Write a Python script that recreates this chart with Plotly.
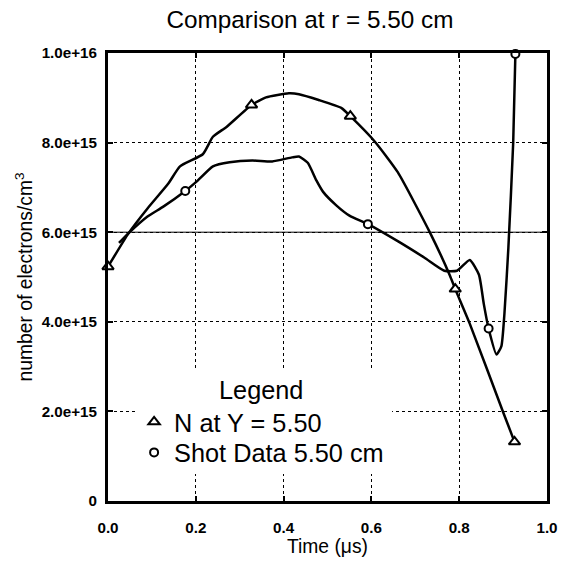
import plotly.graph_objects as go

# ---- data (electron density in units of 1e15 electrons/cm^3) ----
time_model = [0.0, 0.047, 0.090, 0.137, 0.164, 0.216, 0.239, 0.270, 0.327, 0.360,
              0.412, 0.435, 0.480, 0.532, 0.552, 0.608, 0.660, 0.734, 0.779, 0.791,
              0.824, 0.901, 0.926]
n_model = [5.23, 5.98, 6.53, 7.08, 7.47, 7.74, 8.13, 8.35, 8.84, 9.01,
           9.10, 9.08, 8.95, 8.77, 8.59, 8.02, 7.34, 5.98, 5.03, 4.73,
           3.96, 1.96, 1.32]
time_model_marks = [0.0, 0.327, 0.552, 0.791, 0.926]
n_model_marks = [5.23, 8.84, 8.59, 4.73, 1.32]

time_shot = [0.025, 0.047, 0.090, 0.126, 0.176, 0.203, 0.239, 0.277, 0.329, 0.374,
             0.419, 0.435, 0.455, 0.475, 0.490, 0.520, 0.550, 0.592, 0.660, 0.721,
             0.766, 0.795, 0.824, 0.845, 0.856, 0.867, 0.885, 0.896, 0.903, 0.912,
             0.923, 0.928]
n_shot = [5.76, 5.98, 6.35, 6.57, 6.92, 7.14, 7.47, 7.56, 7.60, 7.58,
          7.67, 7.69, 7.55, 7.15, 6.90, 6.60, 6.37, 6.18, 5.80, 5.43,
          5.14, 5.14, 5.38, 5.05, 4.40, 3.85, 3.27, 3.45, 4.18, 5.65,
          8.00, 9.98]
time_shot_marks = [0.176, 0.592, 0.867, 0.928]
n_shot_marks = [6.92, 6.18, 3.85, 9.98]

x_ticks = [0.0, 0.2, 0.4, 0.6, 0.8, 1.0]
x_tick_labels = ["0.0", "0.2", "0.4", "0.6", "0.8", "1.0"]
y_ticks = [0, 2e15, 4e15, 6e15, 8e15, 1e16]
y_tick_labels = ["0", "2.0e+15", "4.0e+15", "6.0e+15", "8.0e+15", "1.0e+16"]
ref_level = 6e15

SCALE = 1e15
FONT = "Liberation Sans, Arial, Helvetica, sans-serif"

# the captured picture comes out slightly reduced; layout pixels are scaled up to match
K = 1 / 0.987


def P(v):
    return v * K


W, H = 569, 565
L, T = round(P(107)), round(P(52))
R, B = W - round(P(551)), H - round(P(507))
PW, PH = W - L - R, H - T - B


def px_to_paper_x(px):
    return (P(px) - L) / PW


def px_to_paper_y(py):
    return 1 - (P(py) - T) / PH


fig = go.Figure()

fig.add_trace(go.Scatter(
    x=time_model, y=[v * SCALE for v in n_model], mode="lines",
    line=dict(color="black", width=2.5, shape="spline", smoothing=0.5),
    showlegend=False, hoverinfo="skip"))
fig.add_trace(go.Scatter(
    x=time_shot, y=[v * SCALE for v in n_shot], mode="lines",
    line=dict(color="black", width=2.5, shape="spline", smoothing=0.5),
    showlegend=False, hoverinfo="skip"))

fig.add_trace(go.Scatter(
    x=time_model_marks, y=[v * SCALE for v in n_model_marks], mode="markers",
    name="N at Y = 5.50", legend="legend",
    marker=dict(symbol="triangle-up", size=10, color="white",
                line=dict(color="black", width=2)),
    cliponaxis=False))
fig.add_trace(go.Scatter(
    x=time_shot_marks, y=[v * SCALE for v in n_shot_marks], mode="markers",
    name="Shot Data 5.50 cm", legend="legend2",
    marker=dict(symbol="circle", size=8, color="white",
                line=dict(color="black", width=2)),
    cliponaxis=False))

# solid reference line at 6e15
fig.add_shape(type="line", xref="x domain", x0=0, x1=1, yref="y",
              y0=ref_level, y1=ref_level, line=dict(color="black", width=1),
              layer="above")
# white legend panel hiding the grid behind the legend
fig.add_shape(type="rect", xref="paper", yref="paper",
              x0=px_to_paper_x(134), x1=px_to_paper_x(394),
              y0=px_to_paper_y(480), y1=px_to_paper_y(375),
              fillcolor="white", line=dict(width=0), layer="above")

axis_common = dict(
    showline=True, linecolor="black", linewidth=3, mirror="ticks",
    ticks="inside", ticklen=5, tickwidth=2, tickcolor="black",
    showgrid=True, gridcolor="black", gridwidth=1, griddash="dot",
    zeroline=False,
    tickfont=dict(family=FONT, size=15.2, color="black", weight="bold"),
)

fig.update_xaxes(range=[0, 1], tickvals=x_ticks, ticktext=x_tick_labels,
                 title=dict(text="Time (μs)", font=dict(family=FONT, size=19.3, color="black"),
                            standoff=4),
                 ticklabelstandoff=11, **axis_common)
fig.update_yaxes(range=[0, 1e16], tickvals=y_ticks, ticktext=y_tick_labels,
                 title=dict(text="number of electrons/cm<sup>3</sup>",
                            font=dict(family=FONT, size=19.3, color="black"), standoff=4),
                 ticklabelstandoff=5, **axis_common)

legend_font = dict(family=FONT, size=25.3, color="black")
fig.update_layout(
    width=W, height=H,
    margin=dict(l=L, r=R, t=T, b=B),
    plot_bgcolor="white", paper_bgcolor="white",
    title=dict(text="Comparison at r = 5.50 cm", x=P(306) / W, xanchor="center",
               y=1 - P(19) / H, yanchor="middle", yref="container",
               font=dict(family=FONT, size=24.3, color="black")),
    legend=dict(font=legend_font, x=px_to_paper_x(133), xanchor="left",
                y=px_to_paper_y(427), yanchor="middle",
                bgcolor="rgba(0,0,0,0)", borderwidth=0),
    legend2=dict(font=legend_font, x=px_to_paper_x(133), xanchor="left",
                 y=px_to_paper_y(458), yanchor="middle",
                 bgcolor="rgba(0,0,0,0)", borderwidth=0),
    annotations=[dict(text="Legend", xref="paper", yref="paper",
                      x=px_to_paper_x(261), y=px_to_paper_y(395),
                      xanchor="center", yanchor="middle", showarrow=False,
                      font=legend_font)],
    font=dict(family=FONT, color="black"),
)

page_fix = (
    "document.body.style.margin='0';"
    "document.body.style.overflow='hidden';"
    "document.documentElement.style.overflow='hidden';"
)
fig.write_html("out.html", post_script=page_fix,
               config={"displayModeBar": False})
